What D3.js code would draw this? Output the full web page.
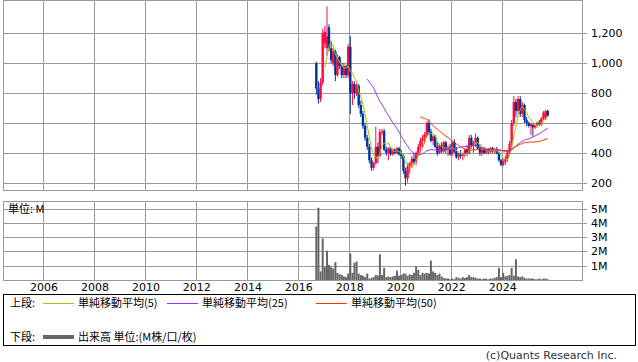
<!DOCTYPE html>
<html>
<head>
<meta charset="utf-8">
<script src="https://cdn.jsdelivr.net/npm/d3@7"></script>
<style>
  body { margin: 0; background: #fff; }
  svg text { font-family: "DejaVu Sans", "Noto Sans CJK JP", sans-serif; }
  .cjk { font-family: "Noto Sans CJK JP", "DejaVu Sans", sans-serif; }
</style>
</head>
<body>
<div id="chart-area"></div>
<script>
// monthly candles, Sep 2016 .. Oct 2025
var startYear = 2016, startMonth = 8;
var opens  = [1000,830,760,870,1130,1100,1240,1100,1000,1080,920,1040,980,920,980,920,1110,800,860,800,
              850,720,660,580,500,440,350,300,330,440,380,540,545,420,400,430,390,420,400,430,
              390,380,280,230,310,330,360,340,400,440,480,500,520,600,540,480,510,440,400,450,
              410,470,420,440,390,470,410,370,390,380,390,420,400,500,450,470,500,430,400,420,
              400,420,405,430,410,420,400,350,320,340,360,400,460,600,740,680,760,660,720,620,
              600,580,590,570,585,600,590,630,630,680];
var highs  = [1010,880,900,1230,1250,1380,1260,1150,1100,1090,1060,1050,1000,1000,990,1130,1180,880,880,870,
              860,750,680,600,520,460,370,340,575,470,560,560,560,440,440,440,430,430,440,440,
              420,390,300,330,340,380,400,410,460,500,520,540,610,625,560,520,520,470,460,470,
              480,480,450,460,480,490,440,400,420,400,430,450,520,520,480,530,510,460,440,440,
              430,430,440,440,430,440,410,360,360,380,420,480,620,780,760,780,780,740,730,640,
              610,600,600,590,610,620,640,680,690,690];
var lows   = [790,730,740,850,1100,1050,1080,1000,980,880,910,960,900,900,900,900,660,720,760,780,
              700,640,560,480,420,330,280,285,320,330,370,520,410,380,350,380,380,390,390,380,
              360,260,180,200,260,300,320,320,380,400,430,460,500,520,470,450,430,380,390,400,
              400,400,380,380,380,400,360,350,360,350,370,380,390,430,400,440,420,380,380,390,
              390,390,395,400,395,390,340,310,310,320,340,390,440,580,640,660,640,640,600,580,
              570,520,510,560,570,580,580,620,620,640];
var closes = [830,760,870,1200,1210,1180,1100,1020,1080,920,1040,980,920,980,920,1110,800,860,800,850,
              720,660,580,500,440,350,300,330,440,380,540,545,420,400,430,390,420,400,430,390,
              380,280,230,310,330,360,340,400,440,480,500,520,600,540,480,510,440,400,450,410,
              470,420,440,390,470,410,370,390,380,390,420,400,500,450,470,500,430,400,420,400,
              420,405,430,410,420,400,350,320,340,360,400,460,600,740,680,760,660,720,620,600,
              580,590,570,585,600,590,630,670,680,650];
// volume, millions
var volumes = [3.75,5.05,0.6,2.9,0.9,2.05,1.05,0.9,0.8,1.25,0.5,0.4,0.35,0.25,0.2,0.45,1.85,0.5,1.2,1.3,
               0.45,0.35,0.3,0.2,0.45,0.1,0.15,0.2,0.35,0.3,1.8,0.35,0.85,0.2,0.25,0.2,0.25,0.3,0.65,0.3,
               0.35,0.45,0.45,0.3,0.4,0.35,0.5,0.95,0.7,0.35,0.5,0.45,0.5,0.45,1.35,0.6,0.5,0.35,0.45,0.25,
               0.15,0.1,0.1,0.05,0.1,0.05,0.2,0.15,0.1,0.2,0.15,0.2,0.35,0.2,0.2,0.15,0.1,0.1,0.05,0.1,
               0.1,0.05,0.1,0.1,0.15,0.2,0.85,0.2,0.5,0.25,0.3,0.35,0.85,0.3,1.45,0.25,0.2,0.25,0.15,0.1,
               0.1,0.1,0.1,0.05,0.05,0.1,0.05,0.1,0.1,0.05];
var priceTicks = [200,400,600,800,1000,1200];
var volTicks = [1,2,3,4,5];
var yearTicks = [2006,2008,2010,2012,2014,2016,2018,2020,2022,2024];
var maPeriods = [5, 25, 50];
var maColors = ["#99cc00", "#9933ff", "#ff3300"];
var maLabels = ["単純移動平均(5)", "単純移動平均(25)", "単純移動平均(50)"];

var data = closes.map(function(c, i) {
  return {date: new Date(startYear, startMonth + i, 15), open: opens[i], high: highs[i],
          low: lows[i], close: c, volume: volumes[i]};
});

var width = 638, height = 362;
var left = 3, right = 582;
var svg = d3.select("#chart-area").append("svg")
  .attr("width", width).attr("height", height);

var x = d3.scaleTime()
  .domain([new Date(2004, 4, 31), new Date(2027, 1, 17)])
  .range([left, right]);
var y = d3.scaleLinear().domain([200, 1200]).range([182.7, 33.3]);
var yv = d3.scaleLinear().domain([0, 5]).range([280, 208.5]);

var gridColor = "#999";

// upper panel grid
var gUp = svg.append("g");
gUp.append("g").attr("transform", "translate(0,190)")
  .call(d3.axisBottom(x).tickValues(yearTicks.map(function(d){ return new Date(d,0,1); }))
    .tickSize(-190).tickFormat(""));
gUp.append("g").attr("transform", "translate(" + left + ",0)")
  .call(d3.axisRight(y).tickValues(priceTicks).tickSize(right - left + 5).tickPadding(4)
    .tickFormat(d3.format(",")));

// lower panel grid
var gLo = svg.append("g");
gLo.append("g").attr("transform", "translate(0,280)")
  .call(d3.axisBottom(x).tickValues(yearTicks.map(function(d){ return new Date(d,0,1); }))
    .tickSize(-(280 - 201.5)).tickPadding(3).tickFormat(d3.timeFormat("%Y")));
gLo.append("g").attr("transform", "translate(" + left + ",0)")
  .call(d3.axisRight(yv).tickValues(volTicks).tickSize(right - left + 5).tickPadding(4)
    .tickFormat(function(d){ return d + "M"; }));

svg.selectAll(".domain").remove();
svg.selectAll(".tick line").attr("stroke", gridColor).attr("stroke-width", 1).attr("shape-rendering", "crispEdges");
svg.selectAll(".tick text").attr("fill", "#000").attr("font-size", "11px");

// frames
svg.append("rect").attr("x", left + 0.5).attr("y", 0.5).attr("width", right - left).attr("height", 189.5)
  .attr("fill", "none").attr("stroke", gridColor).attr("shape-rendering", "crispEdges");
svg.append("rect").attr("x", left + 0.5).attr("y", 201.5).attr("width", right - left).attr("height", 78.5)
  .attr("fill", "none").attr("stroke", gridColor).attr("shape-rendering", "crispEdges");

svg.append("text").attr("class", "cjk").attr("x", 8).attr("y", 213)
  .attr("font-size", "11px").text("単位: M");

// volume bars
svg.append("g").selectAll("rect").data(data).enter().append("rect")
  .attr("x", function(d){ return x(d.date) - 1; })
  .attr("y", function(d){ return yv(d.volume); })
  .attr("width", 2)
  .attr("height", function(d){ return yv(0) - yv(d.volume); })
  .attr("fill", "#666");

// candles
var up = "#ff0a3c", down = "#00339e";
var candles = svg.append("g").selectAll("g").data(data).enter().append("g");
candles.append("line")
  .attr("x1", function(d){ return x(d.date); })
  .attr("x2", function(d){ return x(d.date); })
  .attr("y1", function(d){ return y(d.high); })
  .attr("y2", function(d){ return y(d.low); })
  .attr("stroke", function(d){ return d.close >= d.open ? up : down; });
candles.append("rect")
  .attr("x", function(d){ return x(d.date) - 1.2; })
  .attr("y", function(d){ return y(Math.max(d.open, d.close)); })
  .attr("width", 2.4)
  .attr("height", function(d){ return Math.max(1, Math.abs(y(d.open) - y(d.close))); })
  .attr("fill", function(d){ return d.close >= d.open ? up : down; });

// moving averages
maPeriods.forEach(function(p, k) {
  var ma = [];
  data.forEach(function(d, i) {
    if (i >= p - 1) ma.push({date: d.date, v: d3.mean(data.slice(i - p + 1, i + 1), function(e){ return e.close; })});
  });
  svg.append("path").datum(ma)
    .attr("fill", "none").attr("stroke", maColors[k]).attr("stroke-width", 1)
    .attr("d", d3.line().x(function(d){ return x(d.date); }).y(function(d){ return y(d.v); }));
});

// legend
var lg = svg.append("g");
lg.append("rect").attr("x", 3.5).attr("y", 294.5).attr("width", 632).attr("height", 51)
  .attr("fill", "none").attr("stroke", "#000").attr("shape-rendering", "crispEdges");
lg.append("text").attr("class", "cjk").attr("x", 10).attr("y", 307).attr("font-size", "11px").text("上段:");
var lx = [43, 167, 316];
maLabels.forEach(function(t, k) {
  lg.append("line").attr("x1", lx[k]).attr("x2", lx[k] + 31).attr("y1", 303.5).attr("y2", 303.5)
    .attr("stroke", maColors[k]).attr("stroke-width", 1);
  lg.append("text").attr("class", "cjk").attr("x", lx[k] + 35).attr("y", 307).attr("font-size", "11px").text(t);
});
lg.append("text").attr("class", "cjk").attr("x", 10).attr("y", 341).attr("font-size", "11px").text("下段:");
lg.append("line").attr("x1", 43).attr("x2", 74).attr("y1", 337).attr("y2", 337)
  .attr("stroke", "#666").attr("stroke-width", 4);
lg.append("text").attr("class", "cjk").attr("x", 78).attr("y", 341).attr("font-size", "11px").text("出来高 単位:(M株/口/枚)");

svg.append("text").attr("x", 617).attr("y", 359).attr("text-anchor", "end")
  .attr("font-size", "11px").attr("fill", "#333").text("(c)Quants Research Inc.");
</script>
</body>
</html>
